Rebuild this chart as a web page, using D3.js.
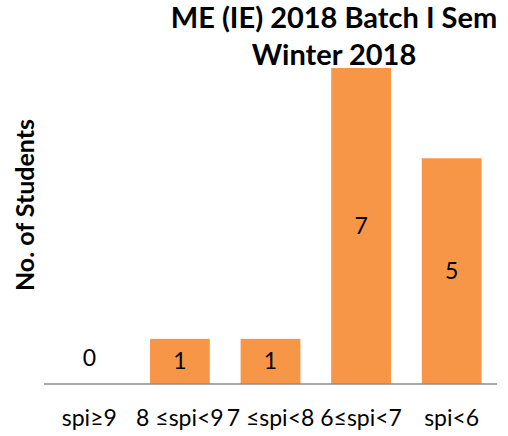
<!DOCTYPE html>
<html lang="en">
<head>
  <meta charset="UTF-8">
  <title>ME (IE) 2018 Batch I Sem Winter 2018</title>
  <script src="https://d3js.org/d3.v7.min.js"></script>
  <style>
    body { margin: 0; background: #fff; }
    text { font-family: Lato, "Open Sans", "Liberation Sans", sans-serif; }
  </style>
</head>
<body>
<script>
  // chart data
  const categories = ["spi\u22659", "8 \u2264spi<9", "7 \u2264spi<8", "6\u2264spi<7", "spi<6"];
  const students = [0, 1, 1, 7, 5];
  const titleLines = ["ME (IE) 2018 Batch I Sem", "Winter 2018"];

  const width = 508, height = 436;
  const svg = d3.select("body").append("svg")
    .attr("width", width)
    .attr("height", height);

  // plot area
  const plotLeft = 44, plotRight = 497, plotTop = 68, plotBottom = 384;

  const x = d3.scaleBand()
    .domain(categories)
    .range([plotLeft, plotRight])
    .paddingInner(0.34)
    .paddingOuter(0.17);

  const y = d3.scaleLinear()
    .domain([0, 7])
    .range([plotBottom, plotTop]);

  // bars
  svg.selectAll("rect.bar")
    .data(categories)
    .enter().append("rect")
    .attr("class", "bar")
    .attr("x", d => x(d))
    .attr("width", x.bandwidth())
    .attr("y", (d, i) => y(students[i]))
    .attr("height", (d, i) => y(0) - y(students[i]))
    .attr("fill", "#F79646");

  // axis line
  svg.append("line")
    .attr("x1", plotLeft).attr("x2", plotRight)
    .attr("y1", plotBottom).attr("y2", plotBottom)
    .attr("stroke", "#8c8c8c")
    .attr("stroke-width", 1.5);

  // value labels in the middle of each bar
  svg.selectAll("text.val")
    .data(categories)
    .enter().append("text")
    .attr("class", "val")
    .attr("x", d => x(d) + x.bandwidth() / 2)
    .attr("y", (d, i) => students[i] > 0 ? (y(students[i]) + y(0)) / 2 : y(0) - 26)
    .attr("dy", "0.35em")
    .attr("text-anchor", "middle")
    .attr("font-size", 23)
    .attr("fill", "#000")
    .text((d, i) => students[i]);

  // category labels
  svg.selectAll("text.cat")
    .data(categories)
    .enter().append("text")
    .attr("class", "cat")
    .attr("x", d => x(d) + x.bandwidth() / 2)
    .attr("y", 426)
    .attr("text-anchor", "middle")
    .attr("font-size", 23)
    .attr("fill", "#000")
    .text(d => d);

  // title
  svg.selectAll("text.title")
    .data(titleLines)
    .enter().append("text")
    .attr("class", "title")
    .attr("x", 334)
    .attr("y", (d, i) => 28 + i * 37)
    .attr("text-anchor", "middle")
    .attr("font-size", 29)
    .attr("font-weight", "bold")
    .attr("fill", "#000")
    .text(d => d);

  // y axis title
  svg.append("text")
    .attr("transform", "translate(34,205) rotate(-90)")
    .attr("text-anchor", "middle")
    .attr("font-size", 25)
    .attr("font-weight", "bold")
    .attr("fill", "#000")
    .text("No. of Students");
</script>
</body>
</html>
